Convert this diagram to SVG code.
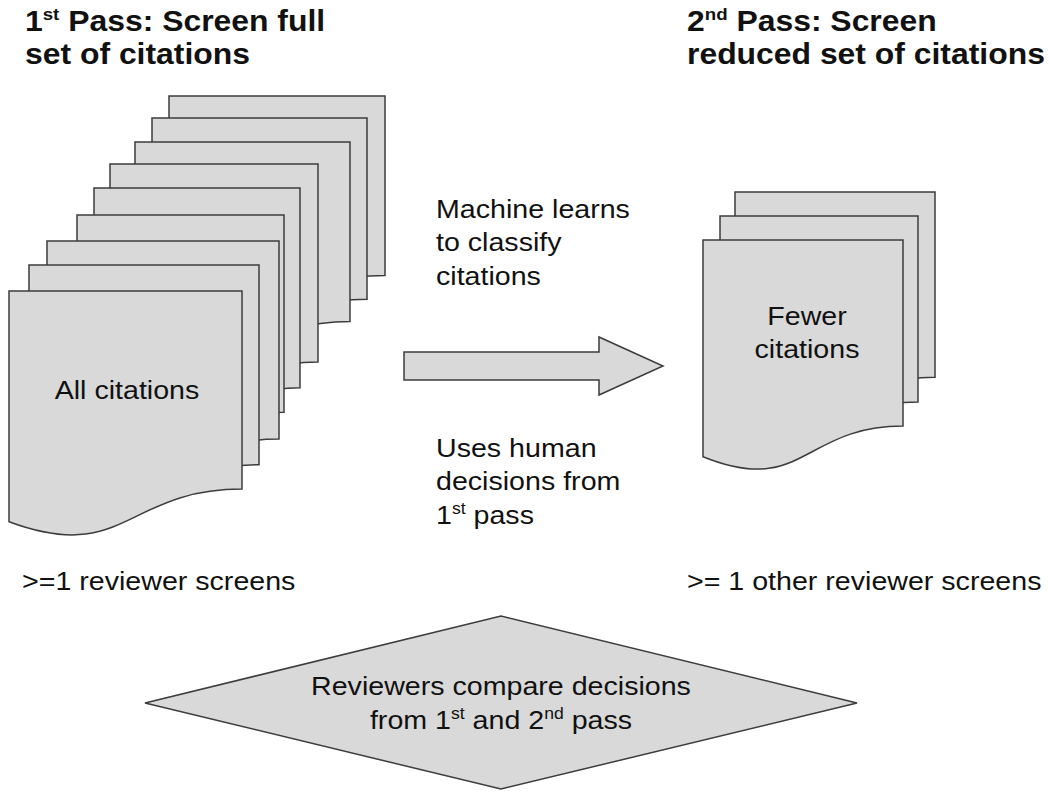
<svg xmlns="http://www.w3.org/2000/svg" width="1050" height="799" viewBox="0 0 1050 799">
<style>
.shape{fill:#d9d9d9;stroke:#3c3c3c;stroke-width:1.5;stroke-linejoin:miter}
.t{font-family:"Liberation Sans",Arial,sans-serif;font-size:26px;fill:#111;transform-box:fill-box;transform:scaleX(1.1)}
.tl{transform-origin:left center}
.tc{transform-origin:center}
.title{font-weight:bold;font-size:29px}
.sup{font-size:16px}
.tsup{font-size:17px}
</style>
<rect width="1050" height="799" fill="#ffffff"/>
<g id="title-first-pass">
<text class="t tl title" x="25" y="31">1<tspan class="tsup" dy="-11">st</tspan><tspan dy="11"> Pass: Screen full</tspan><tspan x="25" y="64">set of citations</tspan></text>
</g>
<g id="title-second-pass">
<text class="t tl title" x="687" y="31">2<tspan class="tsup" dy="-11">nd</tspan><tspan dy="11"> Pass: Screen</tspan><tspan x="687" y="64">reduced set of citations</tspan></text>
</g>
<g id="all-citations">
<path class="shape" d="M169,96 H385 V275.6 C277,275.6 277,344.2 169,305.2 Z"/>
<path class="shape" d="M152,118 H367 V299.3 C259.5,299.3 259.5,368.4 152,329.1 Z"/>
<path class="shape" d="M135,142 H350 V321.6 C242.5,321.6 242.5,390.2 135,351.2 Z"/>
<path class="shape" d="M110,164 H318 V362.1 C214,362.1 214,437.7 110,394.7 Z"/>
<path class="shape" d="M94,188 H300 V387.7 C197,387.7 197,463.9 94,420.6 Z"/>
<path class="shape" d="M77,215 H284 V412.3 C180.5,412.3 180.5,487.6 77,444.8 Z"/>
<path class="shape" d="M47,241 H279 V439.1 C163,439.1 163,514.7 47,471.7 Z"/>
<path class="shape" d="M29,265 H259 V464.7 C144,464.7 144,540.9 29,497.6 Z"/>
<path class="shape" d="M9,291 H242 V489.1 C125.5,489.1 125.5,564.7 9,521.7 Z"/>
<text class="t tc" x="127" y="399" text-anchor="middle">All citations</text>
</g>
<g id="fewer-citations">
<path class="shape" d="M735,192 H935 V377.3 C835,377.3 835,448 735,407.8 Z"/>
<path class="shape" d="M720,216 H918 V402.1 C819,402.1 819,473.1 720,432.7 Z"/>
<path class="shape" d="M703,240 H903 V426.1 C803,426.1 803,497.1 703,456.7 Z"/>
<text class="t tc" x="807" y="325" text-anchor="middle"><tspan x="807" y="325">Fewer</tspan><tspan x="807" y="358">citations</tspan></text>
</g>
<g id="connectors">
<polygon class="shape" points="404,352 599,352 599,337 663,366 599,395 599,380 404,380"/>
<text class="t tl" x="436" y="218"><tspan x="436" y="218">Machine learns</tspan><tspan x="436" y="251.5">to classify</tspan><tspan x="436" y="285">citations</tspan></text>
<text class="t tl" x="436" y="457"><tspan x="436" y="457">Uses human</tspan><tspan x="436" y="490.5">decisions from</tspan><tspan x="436" y="524">1</tspan><tspan class="sup" dy="-10">st</tspan><tspan dy="10"> pass</tspan></text>
</g>
<g id="label-first-reviewer">
<text class="t tl" x="22" y="590">&gt;=1 reviewer screens</text>
</g>
<g id="label-second-reviewer">
<text class="t tl" x="687" y="590">&gt;= 1 other reviewer screens</text>
</g>
<g id="compare-decisions">
<polygon class="shape" points="145,703 501,616 857,703 501,789"/>
<text class="t tc" x="501" y="695" text-anchor="middle"><tspan x="501" y="695">Reviewers compare decisions</tspan><tspan x="501" y="729">from 1</tspan><tspan class="sup" dy="-10">st</tspan><tspan dy="10"> and 2</tspan><tspan class="sup" dy="-10">nd</tspan><tspan dy="10"> pass</tspan></text>
</g>
</svg>
